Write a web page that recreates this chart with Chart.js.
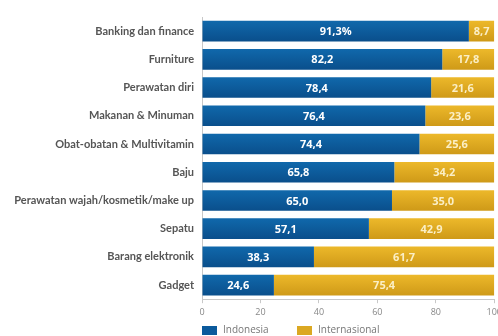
<!DOCTYPE html>
<html>
<head>
<meta charset="utf-8">
<script src="https://cdn.jsdelivr.net/npm/chart.js@4/dist/chart.umd.min.js"></script>
<style>
  html, body { margin: 0; padding: 0; background: #fff; overflow: hidden; }
  #wrap { width: 506px; height: 336px; }
</style>
</head>
<body>
<div id="wrap"><canvas id="myChart"></canvas></div>
<script>
const categories = [
  "Banking dan finance",
  "Furniture",
  "Perawatan diri",
  "Makanan & Minuman",
  "Obat-obatan & Multivitamin",
  "Baju",
  "Perawatan wajah/kosmetik/make up",
  "Sepatu",
  "Barang elektronik",
  "Gadget"
];
const indonesia = [91.3, 82.2, 78.4, 76.4, 74.4, 65.8, 65.0, 57.1, 38.3, 24.6];
const internasional = [8.7, 17.8, 21.6, 23.6, 25.6, 34.2, 35.0, 42.9, 61.7, 75.4];
const xTicks = [0, 20, 40, 60, 80, 100];

// vertical gradient for each bar
function barGradient(top, bottom) {
  return (c) => {
    const chart = c.chart;
    if (!chart.chartArea || c.dataIndex === undefined) return top;
    const y = chart.scales.y.getPixelForValue(c.dataIndex);
    const g = chart.ctx.createLinearGradient(0, y - 10, 0, y + 10);
    g.addColorStop(0, top);
    g.addColorStop(1, bottom);
    return g;
  };
}

const valueLabels = {
  id: "valueLabels",
  afterDatasetsDraw(chart) {
    const ctx = chart.ctx;
    ctx.save();
    ctx.font = "bold 11px 'Open Sans'";
    ctx.textAlign = "center";
    ctx.textBaseline = "middle";
    chart.data.datasets.forEach((ds, di) => {
      const meta = chart.getDatasetMeta(di);
      ctx.fillStyle = di === 0 ? "#ffffff" : "#fbefc6";
      meta.data.forEach((bar, i) => {
        let txt = ds.data[i].toFixed(1).replace(".", ",");
        if (di === 0 && i === 0) txt += "%";
        ctx.fillText(txt, (bar.base + bar.x) / 2, bar.y + 1);
      });
    });
    ctx.restore();
  }
};

const bottomLegend = {
  id: "bottomLegend",
  afterDraw(chart) {
    const ctx = chart.ctx;
    const left = chart.chartArea.left;
    const y = 326;
    const items = [
      { text: "Indonesia", color: "#0b5a9c", x: left },
      { text: "Internasional", color: "#dba822", x: left + 95 }
    ];
    ctx.save();
    ctx.font = "10px 'Open Sans'";
    ctx.textBaseline = "middle";
    items.forEach((it) => {
      ctx.fillStyle = it.color;
      ctx.fillRect(it.x, y, 15, 9);
      ctx.fillStyle = "#777";
      ctx.fillText(it.text, it.x + 21, y + 4.5);
    });
    ctx.restore();
  }
};

const ctx = document.getElementById("myChart").getContext("2d");
new Chart(ctx, {
  type: "bar",
  plugins: [valueLabels, bottomLegend],
  data: {
    labels: categories,
    datasets: [
      {
        label: "Indonesia",
        data: indonesia,
        backgroundColor: barGradient("#1068ab", "#0a4f8c"),
        barPercentage: 0.73,
        categoryPercentage: 1
      },
      {
        label: "Internasional",
        data: internasional,
        backgroundColor: barGradient("#ecb82a", "#cf9a18"),
        barPercentage: 0.73,
        categoryPercentage: 1
      }
    ]
  },
  options: {
    indexAxis: "y",
    responsive: true,
    maintainAspectRatio: false,
    animation: false,
    layout: { padding: { top: 17, bottom: 14, left: 0, right: 0 } },
    plugins: {
      legend: { display: false },
      tooltip: { enabled: false }
    },
    scales: {
      x: {
        stacked: true,
        min: 0,
        max: 100,
        afterBuildTicks: (axis) => {
          axis.ticks = xTicks.map((v) => ({ value: v }));
        },
        grid: { drawOnChartArea: false, drawTicks: true, tickLength: 4, color: "#c8c8c8" },
        border: { display: true, color: "#c8c8c8" },
        ticks: { color: "#888", font: { family: "'Open Sans'", size: 9 }, padding: 4, maxRotation: 0 }
      },
      y: {
        stacked: true,
        afterFit: (scale) => { scale.width = 202; },
        grid: { display: false, drawTicks: false },
        border: { display: true, color: "#c8c8c8" },
        ticks: { color: "#555", font: { family: "Lato", size: 11, weight: "bold" }, padding: 8 }
      }
    }
  }
});
</script>
</body>
</html>
